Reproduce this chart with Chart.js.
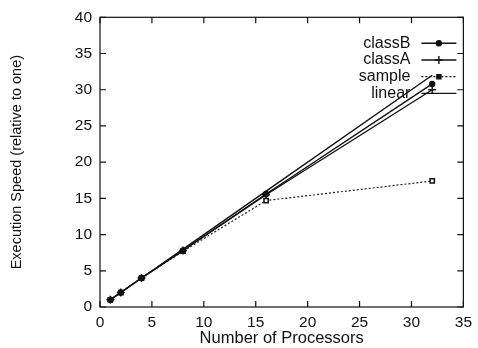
<!DOCTYPE html>
<html>
<head>
<meta charset="utf-8">
<script src="https://cdn.jsdelivr.net/npm/chart.js@4/dist/chart.umd.min.js"></script>
<style>
  html, body { margin: 0; padding: 0; background: #fff; }
  #wrap { width: 478px; height: 348px; }
</style>
</head>
<body>
<div id="wrap"><canvas id="my-chart" width="478" height="348"></canvas></div>
<script>
// processors on the x axis
const processors = [1, 2, 4, 8, 16, 32];

// speedup values
const classB = [1, 2, 4, 7.8, 15.6, 30.8];
const classA = [1, 2, 4, 7.8, 15.5, 30.0];
const sample = [1, 2, 4, 7.7, 14.7, 17.4];
const linear = [1, 2, 4, 8, 16, 32];

const seriesNames = ["classB", "classA", "sample", "linear"];
const xTicks = [0, 5, 10, 15, 20, 25, 30, 35];
const yTicks = [0, 5, 10, 15, 20, 25, 30, 35, 40];

const font = "'Liberation Sans', Arial, sans-serif";

function toPoints(values) {
  return processors.map((p, i) => ({ x: p, y: values[i] }));
}

// box and inward tick marks on all four sides, like gnuplot
const frame = {
  id: "frame",
  afterDraw(chart) {
    const ctx = chart.ctx;
    const a = chart.chartArea;
    const xs = chart.scales.x;
    const ys = chart.scales.y;
    ctx.save();
    ctx.strokeStyle = "#111";
    ctx.lineWidth = 1.2;
    ctx.strokeRect(a.left, a.top, a.right - a.left, a.bottom - a.top);
    ctx.beginPath();
    xTicks.forEach(v => {
      const px = xs.getPixelForValue(v);
      ctx.moveTo(px, a.bottom); ctx.lineTo(px, a.bottom - 6);
      ctx.moveTo(px, a.top); ctx.lineTo(px, a.top + 6);
    });
    yTicks.forEach(v => {
      const py = ys.getPixelForValue(v);
      ctx.moveTo(a.left, py); ctx.lineTo(a.left + 6, py);
      ctx.moveTo(a.right, py); ctx.lineTo(a.right - 6, py);
    });
    ctx.stroke();

    // legend in the top right corner
    ctx.font = "16px " + font;
    ctx.textAlign = "right";
    ctx.textBaseline = "middle";
    chart.data.datasets.forEach((ds, i) => {
      const y = a.top + 26 + i * 16.7;
      const x0 = a.right - 42;
      const x1 = a.right - 7;
      ctx.fillStyle = "#111";
      ctx.fillText(ds.label, x0 - 11, y);
      ctx.strokeStyle = "#111";
      ctx.lineWidth = ds.borderWidth;
      ctx.setLineDash(ds.borderDash || []);
      ctx.beginPath();
      ctx.moveTo(x0, y); ctx.lineTo(x1, y);
      ctx.stroke();
      ctx.setLineDash([]);
      if (ds.pointRadius > 0) {
        Chart.helpers.drawPoint(ctx, {
          pointStyle: ds.pointStyle,
          radius: ds.pointRadius,
          borderWidth: 1.2
        }, (x0 + x1) / 2, y);
        if (ds.pointBackgroundColor !== "#fff") {
          ctx.fillStyle = ds.pointBackgroundColor;
          ctx.fill();
        }
      }
    });
    ctx.restore();
  }
};

const ctx = document.getElementById("my-chart").getContext("2d");

new Chart(ctx, {
  type: "line",
  data: {
    datasets: [
      {
        label: seriesNames[0],
        data: toPoints(classB),
        borderColor: "#111",
        borderWidth: 1.4,
        pointStyle: "circle",
        pointRadius: 2.5,
        pointBackgroundColor: "#111",
        pointBorderColor: "#111"
      },
      {
        label: seriesNames[1],
        data: toPoints(classA),
        borderColor: "#111",
        borderWidth: 1.4,
        pointStyle: "cross",
        pointRadius: 4,
        pointBackgroundColor: "#111",
        pointBorderColor: "#111"
      },
      {
        label: seriesNames[2],
        data: toPoints(sample),
        borderColor: "#222",
        borderWidth: 1.2,
        borderDash: [2, 2],
        pointStyle: "rect",
        pointRadius: 3,
        pointBackgroundColor: "#fff",
        pointBorderColor: "#111",
        pointBorderWidth: 1.5
      },
      {
        label: seriesNames[3],
        data: toPoints(linear),
        borderColor: "#111",
        borderWidth: 1.4,
        pointRadius: 0
      }
    ]
  },
  options: {
    responsive: false,
    animation: false,
    layout: { padding: { top: 13, right: 9, left: 0, bottom: 0 } },
    plugins: {
      legend: { display: false },
      tooltip: { enabled: false }
    },
    scales: {
      x: {
        type: "linear",
        min: 0,
        max: 35,
        afterBuildTicks: axis => { axis.ticks = xTicks.map(v => ({ value: v })); },
        afterFit: axis => { axis.height = 41; },
        grid: { display: false, drawTicks: false },
        border: { display: false },
        ticks: { color: "#111", font: { family: font, size: 15.5 }, padding: 6, maxRotation: 0 },
        title: {
          display: true,
          text: "Number of Processors",
          color: "#111",
          font: { family: font, size: 16.5 },
          padding: { top: -6, bottom: 0 }
        }
      },
      y: {
        min: 0,
        max: 40,
        afterBuildTicks: axis => { axis.ticks = yTicks.map(v => ({ value: v })); },
        afterFit: axis => { axis.width = 100; },
        grid: { display: false, drawTicks: false },
        border: { display: false },
        ticks: { color: "#111", font: { family: font, size: 15.5 }, padding: 8 },
        title: {
          display: true,
          text: "Execution Speed (relative to one)",
          color: "#111",
          font: { family: font, size: 14.5 },
          padding: { top: 8, bottom: 10 }
        }
      }
    }
  },
  plugins: [frame]
});
</script>
</body>
</html>
